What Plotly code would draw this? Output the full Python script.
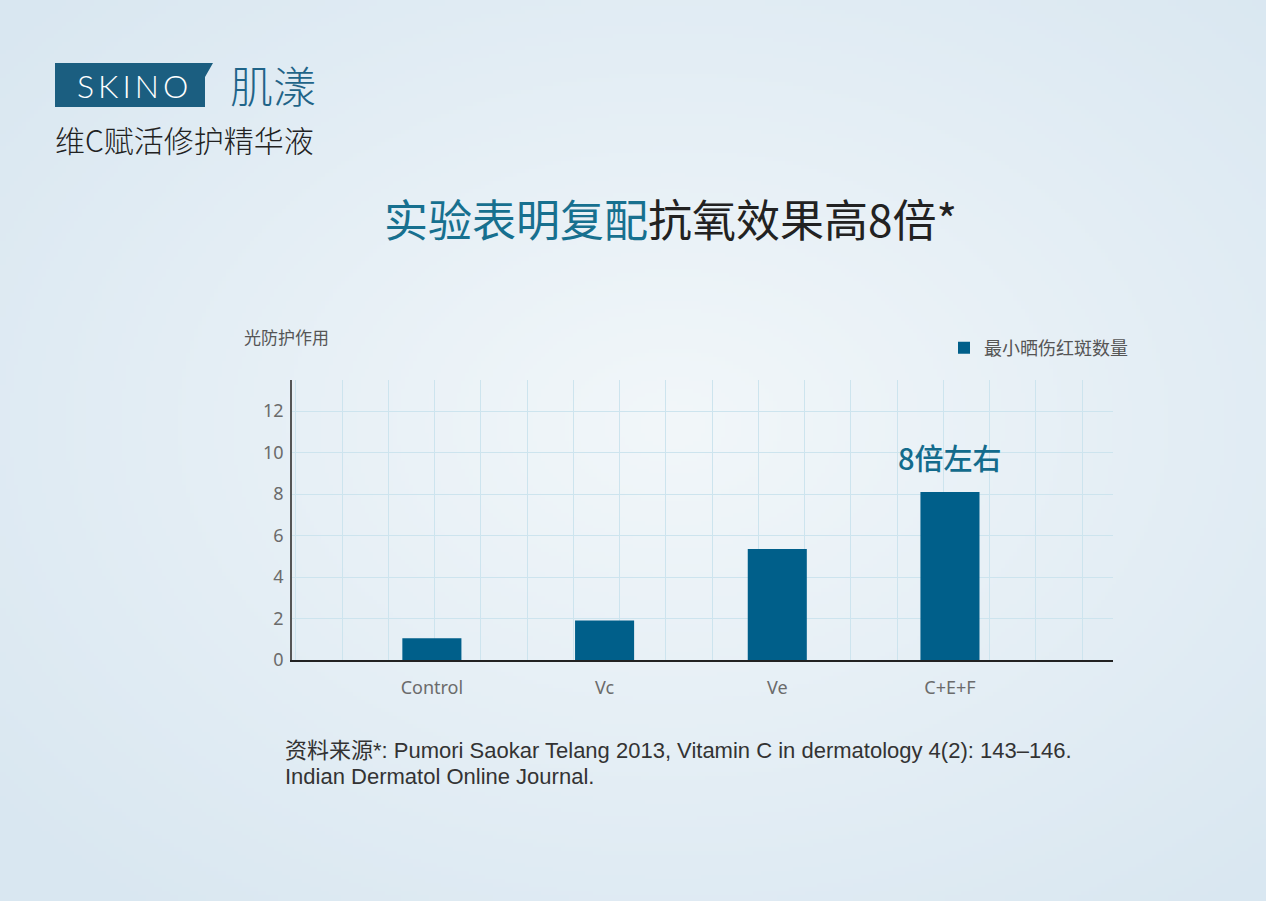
import base64, struct, zlib
import numpy as np
import plotly.graph_objects as go

# ---------------- data ----------------
categories = ["Control", "Vc", "Ve", "C+E+F"]
values = [1.05, 1.9, 5.35, 8.1]
series_name = "最小晒伤红斑数量"
y_ticks = [0, 2, 4, 6, 8, 10, 12]
y_title = "光防护作用"
bar_note = "8倍左右"
title_blue = "实验表明复配"
title_dark = "抗氧效果高8倍*"
brand_en = "S\u2009K\u2009I\u2009N\u2009O"
brand_cn = "肌漾"
product = "维C赋活修护精华液"
source_1 = "资料来源*: Pumori Saokar Telang 2013, Vitamin C in dermatology 4(2): 143–146."
source_2 = "Indian Dermatol Online Journal."

# ---------------- geometry ----------------
W_PX, H_PX = 1266, 901
L, R, T, B = 292, 1113, 380, 660
PW, PH = R - L, B - T


def px(x):
    return (x - L) / PW


def py(y):
    return (B - y) / PH


# background gradient image
def make_bg():
    w, h = 317, 226
    yy, xx = np.mgrid[0:h, 0:w]
    cx, cy = 0.53 * w, 0.47 * h
    d = np.sqrt(((xx - cx) / w) ** 2 + ((yy - cy) / h) ** 2) / 0.7
    d = np.clip(d, 0, 1)
    c0 = np.array([242, 247, 250], float)
    c1 = np.array([217, 231, 241], float)
    img = (c0[None, None, :] * (1 - d[..., None]) + c1[None, None, :] * d[..., None]).astype(np.uint8)
    raw = b"".join(b"\x00" + img[r].tobytes() for r in range(h))

    def chunk(t, data):
        c = struct.pack(">I", len(data)) + t + data
        return c + struct.pack(">I", zlib.crc32(t + data) & 0xFFFFFFFF)

    png = b"\x89PNG\r\n\x1a\n" + chunk(b"IHDR", struct.pack(">IIBBBBB", w, h, 8, 2, 0, 0, 0)) \
        + chunk(b"IDAT", zlib.compress(raw, 9)) + chunk(b"IEND", b"")
    return "data:image/png;base64," + base64.b64encode(png).decode()


BAR_COLOR = "#005f8a"
GRID = "#cde4ee"
CJK = "Noto Sans CJK SC, Noto Sans, sans-serif"
LAT = "Noto Sans, Noto Sans CJK SC, sans-serif"
SRC_FONT = "Liberation Sans, Noto Sans CJK SC, sans-serif"

fig = go.Figure()
fig.add_trace(go.Bar(
    x=categories, y=values, name=series_name,
    marker=dict(color=BAR_COLOR, line=dict(width=0)),
    showlegend=True,
))
# helper trace so the overlay grid axis is drawn
fig.add_trace(go.Scatter(x=[0], y=[0], xaxis="x2", mode="markers",
                         marker=dict(opacity=0), showlegend=False, hoverinfo="skip"))

grid_step = 46.25
fig.update_layout(
    width=W_PX, height=H_PX,
    margin=dict(l=L, r=W_PX - R, t=T, b=H_PX - B, pad=0),
    paper_bgcolor="#e6eff5",
    plot_bgcolor="rgba(0,0,0,0)",
    bargap=0.658,
    font=dict(family=LAT, color="#666"),
    xaxis=dict(
        type="category", range=[-0.81, 3.944],
        showgrid=False, showline=True, linecolor="#222", linewidth=1.5,
        ticks="", ticklabelstandoff=11,
        tickfont=dict(size=18, color="#6b6b6b", family=LAT),
        zeroline=False,
    ),
    xaxis2=dict(
        overlaying="x", anchor="y", range=[-50 / grid_step, (PW - 50) / grid_step],
        tick0=0, dtick=1, showgrid=True, gridcolor=GRID, gridwidth=1,
        showticklabels=False, showline=False, zeroline=False, ticks="",
    ),
    yaxis=dict(
        range=[0, 13.5], tickvals=y_ticks, ticktext=[str(v) for v in y_ticks],
        showgrid=True, gridcolor=GRID, gridwidth=1,
        showline=True, linecolor="#555", linewidth=1.5,
        ticks="", ticklabelstandoff=3,
        tickfont=dict(size=18, color="#6b6b6b", family=LAT),
        zeroline=False,
    ),
    legend=dict(
        x=px(944), y=py(348), xanchor="left", yanchor="middle",
        bgcolor="rgba(0,0,0,0)", borderwidth=0,
        font=dict(size=18, color="#555", family=CJK),
    ),
    images=[dict(
        source=make_bg(), xref="paper", yref="paper",
        x=px(0), y=py(0), sizex=W_PX / PW, sizey=H_PX / PH,
        xanchor="left", yanchor="top", sizing="stretch", layer="below",
    )],
)

# logo tab shape
x0, x1, xr, y_top, y_bot, y_kink = 55, 213, 205, 63, 107, 77
path = (f"M {px(x0)},{py(y_top)} L {px(x1)},{py(y_top)} L {px(xr)},{py(y_kink)} "
        f"L {px(xr)},{py(y_bot)} L {px(x0)},{py(y_bot)} Z")
fig.add_shape(type="path", path=path, xref="paper", yref="paper",
              fillcolor="#1b5e80", line=dict(width=0), layer="above")

annos = [
    dict(x=px(132), y=py(85), text=brand_en, font=dict(size=32, color="white", family="Lato, Noto Sans", weight=300),
         xanchor="center", yanchor="middle"),
    dict(x=px(228), y=py(84), text=brand_cn, font=dict(size=43, color="#1f6488", family=CJK, weight=300),
         xanchor="left", yanchor="middle"),
    dict(x=px(53), y=py(139), text=product, font=dict(size=30, color="#222", family=CJK, weight=300),
         xanchor="left", yanchor="middle"),
    dict(x=px(670), y=py(218),
         text=f"<span style='color:#17708f'>{title_blue}</span><span style='color:#222'>{title_dark}</span>",
         font=dict(size=44, family=CJK), xanchor="center", yanchor="middle"),
    dict(x=px(242), y=py(336), text=y_title, font=dict(size=17, color="#555", family=CJK),
         xanchor="left", yanchor="middle"),
    dict(x=categories[-1], y=values[-1], xref="x", yref="y", text=bar_note,
         font=dict(size=29, color="#136b8c", family=CJK, weight=500), xanchor="center", yanchor="bottom", yshift=12),
    dict(x=px(283), y=py(750), text=source_1,
         font=dict(size=22, color="#333", family=SRC_FONT),
         xanchor="left", yanchor="middle"),
    dict(x=px(283), y=py(776), text=source_2,
         font=dict(size=22, color="#333", family=SRC_FONT),
         xanchor="left", yanchor="middle"),
]
for a in annos:
    a.setdefault("xref", "paper")
    a.setdefault("yref", "paper")
    a["showarrow"] = False
    fig.add_annotation(**a)

fig.write_html("out.html")
